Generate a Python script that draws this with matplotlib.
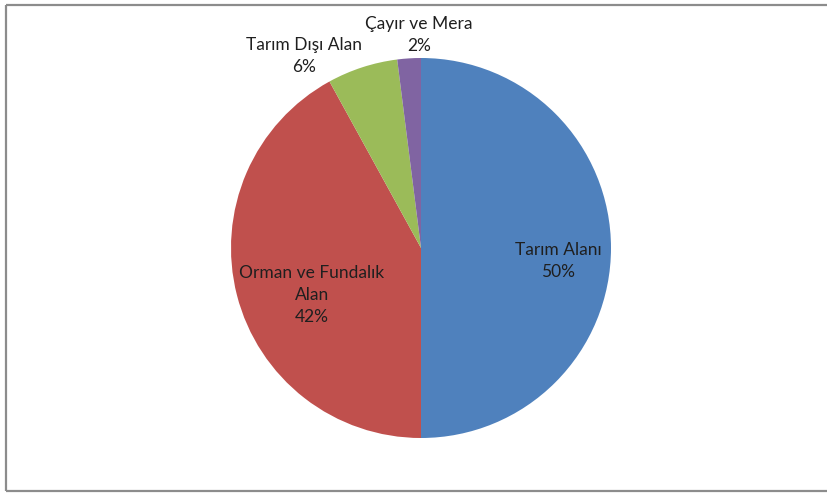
import matplotlib.pyplot as plt

labels = ["Tarım Alanı", "Orman ve Fundalık\nAlan", "Tarım Dışı Alan", "Çayır ve Mera"]
values = [50, 42, 6, 2]
colors = ["#4F81BD", "#C0504D", "#9BBB59", "#8064A2"]

# label positions in pixels (x from left, y from top)
label_pos = [(558, 261), (312, 295), (304, 56), (419, 35)]

W, H = 827, 495
fig = plt.figure(figsize=(W / 100, H / 100), dpi=100)
ax = fig.add_axes([0, 0, 1, 1])
ax.axis("off")

ax.pie(values, colors=colors, startangle=90, counterclock=False,
       center=(421, H - 248), radius=190, wedgeprops=dict(linewidth=0))
ax.set_xlim(0, W)
ax.set_ylim(0, H)
ax.set_aspect("equal")

# chart frame (left, top, bottom; right side runs off the picture)
fc = "#8c8c8c"
ax.plot([6, 6], [H - 491, H - 5], color=fc, lw=1.6, solid_capstyle="butt")
ax.plot([6, W + 5], [H - 5, H - 5], color=fc, lw=1.6, solid_capstyle="butt")
ax.plot([6, W + 5], [H - 491, H - 491], color=fc, lw=1.6, solid_capstyle="butt")

for lab, v, (x, y) in zip(labels, values, label_pos):
    ax.text(x, H - y, lab + "\n" + str(v) + "%", ha="center", va="center",
            fontsize=12.5, family=["Lato", "DejaVu Sans"], color="#1f1f1f",
            linespacing=1.5)

fig.savefig("out.png", dpi=100)
